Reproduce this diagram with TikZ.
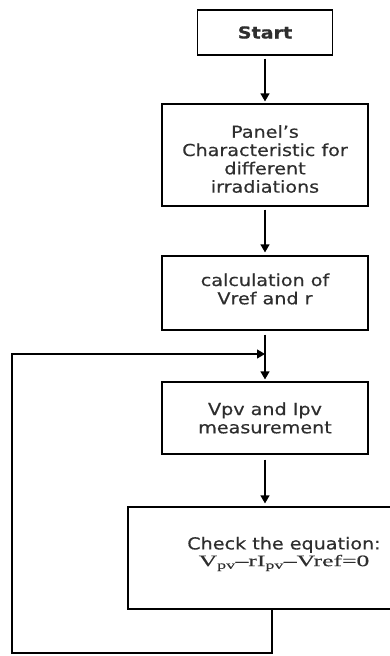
\documentclass[tikz,border=0pt]{standalone}
\usepackage{fontspec}
\setmainfont[FakeStretch=1.16,FakeBold=0.5]{DejaVu Sans}
\newfontfamily\eqfont[FakeStretch=1.6,FakeBold=0.4]{Liberation Serif}
\usetikzlibrary{arrows.meta}
\newcommand{\boxtext}[1]{\begin{tabular}{@{}c@{}}#1\end{tabular}}
\begin{document}
\begin{tikzpicture}[x=1pt,y=-1pt,
  box/.style={draw, line width=1.2pt, rectangle, inner sep=0pt,
    font=\fontsize{16.5pt}{18.3pt}\selectfont, text=black!82},
  arr/.style={draw, line width=1.2pt, -{Triangle[width=9pt,length=8pt]}},
  plain/.style={draw, line width=1.2pt}]
\useasboundingbox (0,0) rectangle (390,656);
\node[box, minimum width=135pt, minimum height=45pt] (start) at (265,32.5) {\bfseries Start};
\node[box, minimum width=206pt, minimum height=102pt] (panel) at (265,155)
  {\boxtext{Panel’s\\Characteristic for\\different\\irradiations\\[-13pt]}};
\node[box, minimum width=206pt, minimum height=74pt] (calc) at (265,293)
  {\boxtext{calculation of\\Vref and r\\[3pt]}};
\node[box, minimum width=206pt, minimum height=72pt] (vpv) at (265,418)
  {\boxtext{Vpv and Ipv\\measurement\\[-5pt]}};
\node[box, minimum width=312pt, minimum height=102pt,
  font=\fontsize{16.5pt}{16.7pt}\selectfont] (check) at (284,558)
  {\boxtext{Check the equation:\\{\eqfont\fontsize{16pt}{16.7pt}\selectfont V\textsubscript{pv}–rI\textsubscript{pv}–Vref=0}\\[8pt]}};
\coordinate (join) at (265,354);
\coordinate (loopstart) at ([xshift=-12pt]check.south);
\coordinate (loopcorner) at (12,653);
\coordinate (looptop) at (12,354);
\draw[arr, shorten <=3pt, shorten >=2pt] (start.south) -- (panel.north);
\draw[arr, shorten <=3pt, shorten >=3pt] (panel.south) -- (calc.north);
\draw[arr, shorten <=4pt, shorten >=2pt] (calc.south) -- (vpv.north);
\draw[arr, shorten <=5pt, shorten >=3pt] (vpv.south) -- (vpv.south |- check.north);
\draw[arr] (loopstart) |- (loopcorner) -- (looptop) -- (join);
\end{tikzpicture}
\end{document}
